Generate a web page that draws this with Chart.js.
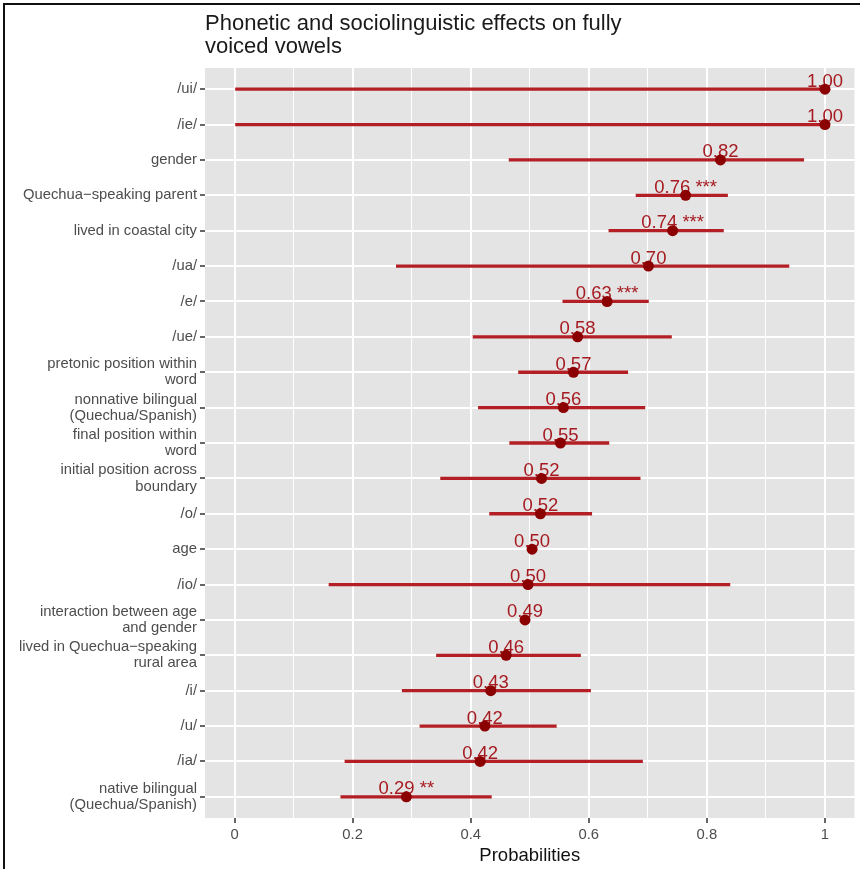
<!DOCTYPE html>
<html>
<head>
<meta charset="utf-8">
<title>Phonetic and sociolinguistic effects on fully voiced vowels</title>
<script src="https://cdn.jsdelivr.net/npm/chart.js@4"></script>
<style>
  body { margin: 0; background: #fff; }
  canvas { display: block; }
</style>
</head>
<body>
<canvas id="myChart" width="860" height="869"></canvas>
<script>
// factors, top to bottom
var categories = [
  ['/ui/'],
  ['/ie/'],
  ['gender'],
  ['Quechua\u2212speaking parent'],
  ['lived in coastal city'],
  ['/ua/'],
  ['/e/'],
  ['/ue/'],
  ['pretonic position within', 'word'],
  ['nonnative bilingual', '(Quechua/Spanish)'],
  ['final position within', 'word'],
  ['initial position across', 'boundary'],
  ['/o/'],
  ['age'],
  ['/io/'],
  ['interaction between age', 'and gender'],
  ['lived in Quechua\u2212speaking', 'rural area'],
  ['/i/'],
  ['/u/'],
  ['/ia/'],
  ['native bilingual', '(Quechua/Spanish)']
];
var estimates = [1.00, 1.00, 0.823, 0.764, 0.742, 0.701, 0.631, 0.581, 0.574, 0.557, 0.552,
                 0.520, 0.518, 0.504, 0.497, 0.492, 0.460, 0.434, 0.424, 0.416, 0.291];
var lowerCI = [0, 0, 0.465, 0.680, 0.634, 0.274, 0.556, 0.404, 0.481, 0.413, 0.466,
               0.349, 0.432, 0.497, 0.160, 0.485, 0.342, 0.284, 0.314, 0.187, 0.180];
var upperCI = [1, 1, 0.964, 0.835, 0.828, 0.939, 0.701, 0.740, 0.666, 0.695, 0.634,
               0.687, 0.605, 0.511, 0.839, 0.499, 0.586, 0.603, 0.545, 0.691, 0.435];
var stars = ['', '', '', '***', '***', '', '***', '', '', '', '',
             '', '', '', '', '', '', '', '', '', '**'];
var xTicks = [0, 0.1, 0.2, 0.3, 0.4, 0.5, 0.6, 0.7, 0.8, 0.9, 1];

var lineRed = '#b41f25';
var textRed = '#a61b21';
var pointRed = '#8b0000';
var fontFam = '"Liberation Sans", Arial, sans-serif';

var panelBg = {
  id: 'panelBg',
  beforeDraw: function(chart) {
    var a = chart.chartArea, ctx = chart.ctx;
    ctx.save();
    ctx.fillStyle = '#e4e4e4';
    ctx.fillRect(a.left, a.top, a.right - a.left, a.bottom - a.top);
    ctx.restore();
  }
};

var frameAndTitle = {
  id: 'frameAndTitle',
  afterDraw: function(chart) {
    var ctx = chart.ctx;
    ctx.save();
    ctx.fillStyle = '#111';
    ctx.fillRect(3, 3, 857, 2);
    ctx.fillRect(3, 3, 2, 866);
    ctx.fillStyle = '#1a1a1a';
    ctx.font = '22px ' + fontFam;
    ctx.textAlign = 'left';
    ctx.textBaseline = 'alphabetic';
    ctx.fillText('Phonetic and sociolinguistic effects on fully', chart.chartArea.left, 30);
    ctx.fillText('voiced vowels', chart.chartArea.left, 53);
    ctx.restore();
  }
};

var valueLabels = {
  id: 'valueLabels',
  afterDatasetDraw: function(chart, args) {
    if (args.index !== 1) return;
    var ctx = chart.ctx, xs = chart.scales.x, ys = chart.scales.y;
    ctx.save();
    ctx.font = '18.5px ' + fontFam;
    ctx.fillStyle = textRed;
    ctx.textAlign = 'center';
    ctx.textBaseline = 'alphabetic';
    estimates.forEach(function(v, i) {
      var t = v.toFixed(2) + (stars[i] ? ' ' + stars[i] : '');
      ctx.fillText(t, xs.getPixelForValue(v), ys.getPixelForValue(i) - 2.5);
    });
    ctx.restore();
  }
};

var config = {
  type: 'bar',
  data: {
    datasets: [{
      type: 'scatter',
      label: 'estimate',
      data: estimates.map(function(v, i) { return {x: v, y: i}; }),
      backgroundColor: pointRed,
      borderWidth: 0,
      pointRadius: 5.5,
      showLine: false
    }, {
      type: 'bar',
      label: 'interval',
      data: categories.map(function(c, i) { return {x: [lowerCI[i], upperCI[i]], y: i}; }),
      backgroundColor: lineRed,
      borderWidth: 0,
      borderSkipped: false,
      barThickness: 2.6
    }]
  },
  options: {
    indexAxis: 'y',
    responsive: false,
    animation: false,
    events: [],
    layout: { padding: { left: 0, right: 3, top: 68, bottom: 0 } },
    plugins: { legend: { display: false }, tooltip: { enabled: false }, title: { display: false } },
    scales: {
      x: {
        type: 'linear',
        min: -0.05,
        max: 1.05,
        offset: false,
        afterBuildTicks: function(scale) {
          scale.ticks = xTicks.map(function(v) { return {value: v}; });
        },
        afterFit: function(scale) { scale.height = 51; },
        border: { display: false },
        grid: {
          offset: false,
          color: '#ffffff',
          lineWidth: function(c) { return c.index % 2 === 0 ? 2 : 1; },
          tickColor: function(c) { return c.index % 2 === 0 ? '#333333' : 'rgba(0,0,0,0)'; },
          tickWidth: 1.5,
          tickLength: 5
        },
        ticks: {
          autoSkip: false,
          maxRotation: 0,
          padding: 3,
          color: '#4d4d4d',
          font: { family: fontFam, size: 14.8 },
          callback: function(v, i) { return i % 2 === 0 ? String(v) : ''; }
        },
        title: {
          display: true,
          text: 'Probabilities',
          color: '#111',
          font: { family: fontFam, size: 18.5 },
          padding: { top: 0, bottom: 2 }
        }
      },
      y: {
        type: 'linear',
        reverse: true,
        offset: false,
        min: -0.6,
        max: categories.length - 0.4,
        afterBuildTicks: function(scale) {
          scale.ticks = categories.map(function(c, i) { return {value: i}; });
        },
        afterFit: function(scale) { scale.width = 205; },
        border: { display: false },
        grid: {
          offset: false,
          color: '#ffffff',
          lineWidth: 2,
          tickColor: '#333333',
          tickWidth: 1.5,
          tickLength: 5
        },
        ticks: {
          autoSkip: false,
          padding: 3,
          color: '#4d4d4d',
          font: { family: fontFam, size: 14.8, lineHeight: 1.1 },
          callback: function(v, i) { return categories[i]; }
        }
      }
    }
  },
  plugins: [panelBg, valueLabels, frameAndTitle]
};

window.onload = function() {
  var ctx = document.getElementById('myChart').getContext('2d');
  window.myChart = new Chart(ctx, config);
};
</script>
</body>
</html>
